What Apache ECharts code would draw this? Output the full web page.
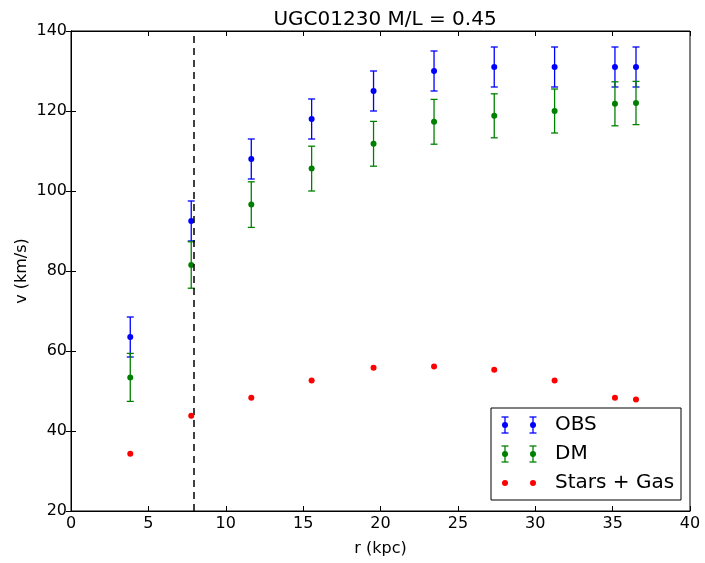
<!DOCTYPE html>
<html>
<head>
<meta charset="utf-8">
<script src="https://cdn.jsdelivr.net/npm/echarts@6/dist/echarts.min.js"></script>
<style>
  html, body { margin: 0; padding: 0; background: #fff; }
  #chart { width: 705px; height: 563px; }
</style>
</head>
<body>
<div id="chart"></div>
<script>
// radius (kpc)
const radius = [3.83, 7.77, 11.65, 15.55, 19.55, 23.46, 27.35, 31.25, 35.15, 36.51];
// observed rotation speed and error
const vObs = [63.5, 92.5, 108, 118, 125, 130, 131, 131, 131, 131];
const errObs = [5, 5, 5, 5, 5, 5, 5, 5, 5, 5];
// dark matter component
const vDM = [53.4, 81.5, 96.6, 105.6, 111.8, 117.3, 118.8, 120, 121.8, 122];
const errDM = [6.0, 5.8, 5.7, 5.6, 5.6, 5.6, 5.5, 5.5, 5.5, 5.4];
// stars + gas
const vStars = [34.3, 43.8, 48.3, 52.6, 55.8, 56.1, 55.3, 52.6, 48.3, 47.9];
const rCut = 7.9;
const legendNames = ['OBS', 'DM', 'Stars + Gas'];

const FONT = 'DejaVu Sans';

function errRender(color) {
  return function (params, api) {
    const x = api.value(0), y = api.value(1), e = api.value(2);
    const top = api.coord([x, y + e]);
    const bot = api.coord([x, y - e]);
    const c = api.coord([x, y]);
    const cap = 3.5;
    const st = { stroke: color, lineWidth: 1.3 };
    return {
      type: 'group',
      children: [
        { type: 'line', shape: { x1: top[0], y1: top[1], x2: bot[0], y2: bot[1] }, style: st },
        { type: 'line', shape: { x1: top[0] - cap, y1: top[1], x2: top[0] + cap, y2: top[1] }, style: st },
        { type: 'line', shape: { x1: bot[0] - cap, y1: bot[1], x2: bot[0] + cap, y2: bot[1] }, style: st },
        { type: 'circle', shape: { cx: c[0], cy: c[1], r: 3 }, style: { fill: color } }
      ]
    };
  };
}

// legend glyphs (matplotlib draws two copies per entry)
function legendGlyph(x, y, color, bars) {
  const items = [];
  [x, x + 28].forEach(function (gx) {
    if (bars) {
      const st = { stroke: color, lineWidth: 1.3 };
      items.push({ type: 'line', z: 101, shape: { x1: gx, y1: y - 8, x2: gx, y2: y + 8 }, style: st });
      items.push({ type: 'line', z: 101, shape: { x1: gx - 3.5, y1: y - 8, x2: gx + 3.5, y2: y - 8 }, style: st });
      items.push({ type: 'line', z: 101, shape: { x1: gx - 3.5, y1: y + 8, x2: gx + 3.5, y2: y + 8 }, style: st });
    }
    items.push({ type: 'circle', z: 102, shape: { cx: gx, cy: y, r: 3 }, style: { fill: color } });
  });
  return items;
}

const chart = echarts.init(document.getElementById('chart'));

const axisCommon = {
  type: 'value',
  splitLine: { show: false },
  axisLine: { show: true, lineStyle: { color: '#000', width: 1 } },
  axisTick: { show: true, inside: true, length: 5, lineStyle: { color: '#000', width: 1 } }
};

const legendX = 505;
const legendRows = [425, 454, 483];

const legendGraphics = [
  {
    type: 'rect',
    z: 100,
    shape: { x: 491, y: 408, width: 190, height: 92 },
    style: { fill: '#fff', stroke: '#000', lineWidth: 1 }
  }
]
  .concat(legendGlyph(legendX, legendRows[0], '#0000ff', true))
  .concat(legendGlyph(legendX, legendRows[1], '#008000', true))
  .concat(legendGlyph(legendX, legendRows[2], '#ff0000', false))
  .concat(legendNames.map(function (t, i) {
    return {
      type: 'text',
      z: 101,
      x: 555, y: legendRows[i],
      style: { text: t, font: '20px "DejaVu Sans"', fill: '#000', verticalAlign: 'middle' }
    };
  }));

chart.setOption({
  animation: false,
  backgroundColor: '#fff',
  textStyle: { fontFamily: FONT },
  title: {
    text: 'UGC01230 M/L = 0.45',
    left: 380,
    top: 5,
    textAlign: 'center',
    textStyle: { fontFamily: FONT, fontSize: 20, fontWeight: 'normal', color: '#000' }
  },
  grid: { left: 71, right: 15, top: 31, bottom: 52, show: true, borderColor: '#000', borderWidth: 1 },
  xAxis: [
    Object.assign({}, axisCommon, {
      min: 0, max: 40, interval: 5,
      name: 'r (kpc)', nameLocation: 'middle', nameGap: 30, nameMoveOverlap: false,
      nameTextStyle: { fontFamily: FONT, fontSize: 16, color: '#000' },
      axisLabel: { color: '#000', fontFamily: FONT, fontSize: 16, margin: 5 }
    }),
    Object.assign({}, axisCommon, {
      position: 'top', min: 0, max: 40, interval: 5,
      axisLabel: { show: false }
    })
  ],
  yAxis: [
    Object.assign({}, axisCommon, {
      min: 20, max: 140, interval: 20,
      name: 'v (km/s)', nameLocation: 'middle', nameGap: 41, nameMoveOverlap: false,
      nameTextStyle: { fontFamily: FONT, fontSize: 16, color: '#000' },
      axisLabel: { color: '#000', fontFamily: FONT, fontSize: 16, margin: 4 }
    }),
    Object.assign({}, axisCommon, {
      position: 'right', min: 20, max: 140, interval: 20,
      axisLabel: { show: false }
    })
  ],
  series: [
    {
      name: 'OBS',
      type: 'custom',
      renderItem: errRender('#0000ff'),
      encode: { x: 0, y: 1 },
      data: radius.map(function (r, i) { return [r, vObs[i], errObs[i]]; }),
      z: 3,
      markLine: {
        silent: true,
        symbol: ['none', 'none'],
        label: { show: false },
        lineStyle: { color: '#000', type: [7, 5], width: 1.5 },
        data: [{ xAxis: rCut }]
      }
    },
    {
      name: 'DM',
      type: 'custom',
      renderItem: errRender('#008000'),
      encode: { x: 0, y: 1 },
      data: radius.map(function (r, i) { return [r, vDM[i], errDM[i]]; }),
      z: 4
    },
    {
      name: 'Stars + Gas',
      type: 'scatter',
      symbol: 'circle',
      symbolSize: 6,
      itemStyle: { color: '#ff0000', opacity: 1 },
      data: radius.map(function (r, i) { return [r, vStars[i]]; }),
      z: 5
    }
  ],
  graphic: legendGraphics
});
</script>
</body>
</html>
